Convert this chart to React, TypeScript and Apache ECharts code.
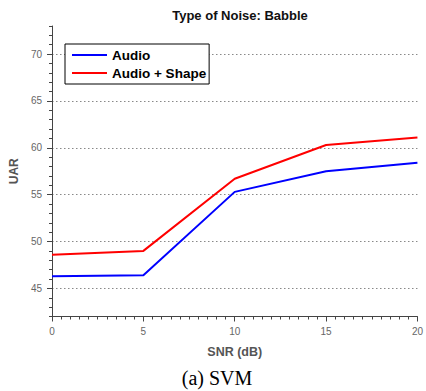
import React, { useEffect, useRef } from "react";
import * as echarts from "echarts";

const snr = [0, 5, 10, 15, 20];
const audio = [46.3, 46.4, 55.3, 57.5, 58.4];
const audioShape = [48.6, 49.0, 56.7, 60.3, 61.1];
const yMajor = [45, 50, 55, 60, 65, 70];
const seriesNames = ["Audio", "Audio + Shape"];
const title = "Type of Noise: Babble";
const caption = "(a) SVM";

export default function App() {
  const ref = useRef<HTMLDivElement>(null);
  useEffect(() => {
    document.body.style.margin = "0";
    const chart = echarts.init(ref.current!, null, { renderer: "svg" });
    const axisColor = "#444";
    const labelColor = "#666";
    const font = "Liberation Sans";
    chart.setOption({
      animation: false,
      backgroundColor: "#fff",
      title: {
        text: title,
        left: 235,
        textAlign: "center",
        top: 4,
        textStyle: { fontFamily: font, fontSize: 13, fontWeight: "bold", color: "#111" },
      },
      grid: { left: 51, right: 6, top: 26, bottom: 74.5, containLabel: false },
      legend: {
        orient: "vertical",
        left: 65,
        top: 44,
        padding: [4, 3, 4, 7],
        itemGap: 4,
        borderColor: "#000",
        borderWidth: 1,
        backgroundColor: "#fff",
        icon: "rect",
        itemWidth: 35,
        itemHeight: 2,
        textStyle: { fontFamily: font, fontSize: 13.5, fontWeight: "bold", color: "#000" },
        data: seriesNames,
      },
      xAxis: {
        type: "value",
        min: 0,
        max: 20,
        interval: 5,
        name: "SNR (dB)",
        nameLocation: "middle",
        nameGap: 29,
        nameTextStyle: { fontFamily: font, fontSize: 12.5, fontWeight: "bold", color: "#555" },
        axisLine: { show: true, lineStyle: { color: axisColor, width: 1 } },
        axisTick: { show: true, length: 5, inside: false, lineStyle: { color: axisColor } },
        minorTick: { show: true, splitNumber: 10, length: 3, lineStyle: { color: axisColor } },
        axisLabel: { fontFamily: font, fontSize: 10, color: labelColor, margin: 10 },
        splitLine: { show: false },
      },
      yAxis: [
        {
          type: "value",
          min: 42,
          max: 73,
          interval: 1,
          position: "left",
          axisLine: { show: true, onZero: false, lineStyle: { color: axisColor, width: 1 } },
          axisTick: { show: true, length: 3, lineStyle: { color: axisColor } },
          axisLabel: { show: false },
          splitLine: { show: false },
        },
        {
          type: "value",
          min: 42,
          max: 73,
          interval: 1,
          position: "left",
          name: "UAR",
          nameLocation: "middle",
          nameGap: 28,
          nameTextStyle: { fontFamily: font, fontSize: 12, fontWeight: "bold", color: "#555" },
          axisLine: { show: false },
          axisTick: { show: true, length: 5, customValues: yMajor, lineStyle: { color: axisColor } },
          axisLabel: { fontFamily: font, fontSize: 10, color: labelColor, margin: 10, customValues: yMajor },
          splitLine: { show: true, lineStyle: { color: "#888", type: [1.5, 2.5], width: 1 } },
        },
      ],
      graphic: [
        {
          type: "text",
          x: 217,
          y: 378,
          style: {
            text: caption,
            fontFamily: "Liberation Serif",
            fontSize: 20,
            fill: "#000",
            textAlign: "center",
            textVerticalAlign: "middle",
          },
        },
      ],
      series: [
        {
          name: seriesNames[0],
          type: "line",
          yAxisIndex: 0,
          data: snr.map((x, i) => [x, audio[i]]),
          showSymbol: false,
          lineStyle: { color: "#0000ff", width: 2 },
          itemStyle: { color: "#0000ff" },
        },
        {
          name: seriesNames[1],
          type: "line",
          yAxisIndex: 0,
          data: snr.map((x, i) => [x, audioShape[i]]),
          showSymbol: false,
          lineStyle: { color: "#ff0000", width: 2 },
          itemStyle: { color: "#ff0000" },
        },
      ],
    });
    return () => chart.dispose();
  }, []);
  return <div ref={ref} style={{ width: 426, height: 391 }} />;
}
